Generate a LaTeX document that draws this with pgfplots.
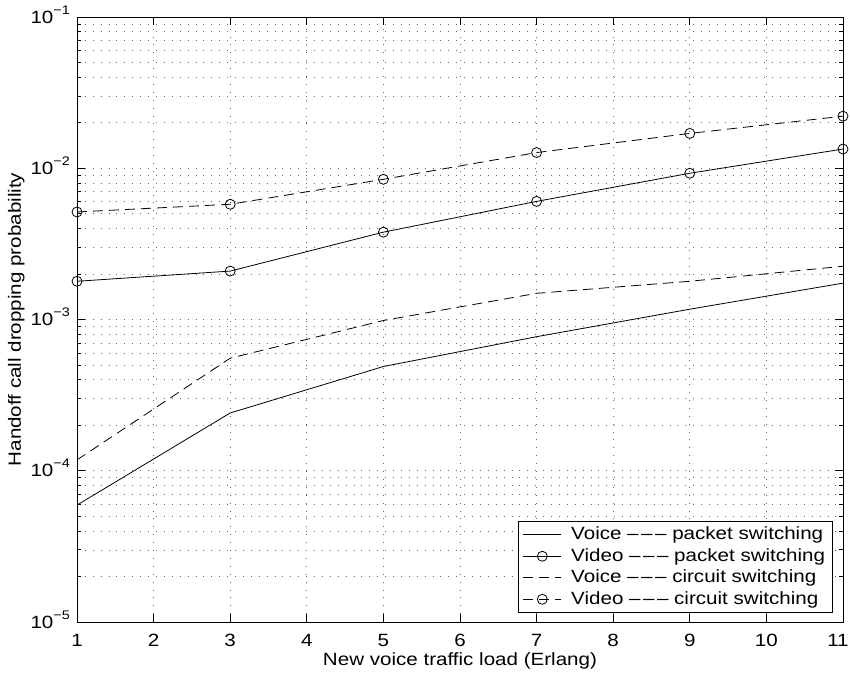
\documentclass[border=0pt]{standalone}
\usepackage{fontspec}
\setmainfont[FakeStretch=1.16]{Liberation Sans}
\usepackage{pgfplots}
\pgfplotsset{compat=1.18}
\newcommand{\ep}[1]{10\raisebox{0.5em}[0pt][0pt]{\fontsize{12.5}{12.5}\selectfont −#1}}
\newcommand{\dsh}{–\hspace{2.5bp}–\hspace{2.5bp}–}
\begin{document}
\fontsize{17.8}{20}\selectfont
\begin{tikzpicture}
\path[use as bounding box] (-77bp,-53bp) rectangle (773bp,622bp);
\begin{axis}[
  at={(0,0)}, anchor=south west,
  scale only axis, width=766bp, height=605bp,
  ymode=log, xmin=1, xmax=11, ymin=1e-5, ymax=1e-1,
  xtick={1,2,...,11},
  xticklabels={1,2,3,4,5,6,7,8,9,10,\hspace*{-10bp}11},
  ytick={1e-5,1e-4,1e-3,1e-2,1e-1},
  yticklabels={\ep{5},\ep{4},\ep{3},\ep{2},\ep{1}},
  tick align=inside,
  major tick length=8bp, minor tick length=4bp,
  every tick/.style={black, line width=0.7bp},
  axis line style={line width=0.9bp},
  grid=both,
  major grid style={black!60, line width=0.65bp, dash pattern=on 0.9bp off 7bp},
  minor grid style={black!60, line width=0.65bp, dash pattern=on 0.9bp off 7bp},
  xlabel={New voice traffic load (Erlang)},
  ylabel={Handoff call dropping probability},
  xticklabel style={inner sep=0pt, anchor=north, yshift=-12bp},
  yticklabel style={xshift=-1bp},
  xlabel style={at={(axis description cs:0.5,0)}, anchor=base, inner sep=0pt, yshift=-43bp},
  ylabel style={yshift=-6bp},
  clip mode=individual,
  legend cell align=left,
  legend style={at={(0.987,0.015)}, anchor=south east, draw=black, line width=0.8bp, fill=white,
    inner xsep=5bp, inner ysep=3bp, row sep=1bp, column sep=7bp,
    nodes={inner sep=2.5bp}},
  legend image code/.code={\draw[mark repeat=2,mark phase=2,#1] plot coordinates {(0bp,0bp) (19bp,0bp) (38bp,0bp)};},
  every axis plot/.append style={black, line width=0.8bp},
  mark size=5bp,
]
\addplot[solid] coordinates {(1,5.93e-5) (3,2.41e-4) (5,4.89e-4) (7,7.70e-4) (9,1.17e-3) (11,1.74e-3)};
\addlegendentry{Voice \dsh{} packet switching}
\addplot[solid, mark=o, mark options={solid, fill=none}] coordinates {(1,1.79e-3) (3,2.09e-3) (5,3.78e-3) (7,6.04e-3) (9,9.27e-3) (11,1.34e-2)};
\addlegendentry{Video \dsh{} packet switching}
\addplot[dash pattern=on 10bp off 6bp] coordinates {(1,1.18e-4) (3,5.55e-4) (5,9.85e-4) (7,1.49e-3) (9,1.79e-3) (11,2.25e-3)};
\addlegendentry{Voice \dsh{} circuit switching}
\addplot[dash pattern=on 10bp off 6bp, mark=o, mark options={solid, fill=none}] coordinates {(1,5.14e-3) (3,5.78e-3) (5,8.45e-3) (7,1.27e-2) (9,1.70e-2) (11,2.21e-2)};
\addlegendentry{Video \dsh{} circuit switching}
\end{axis}
\end{tikzpicture}
\end{document}
